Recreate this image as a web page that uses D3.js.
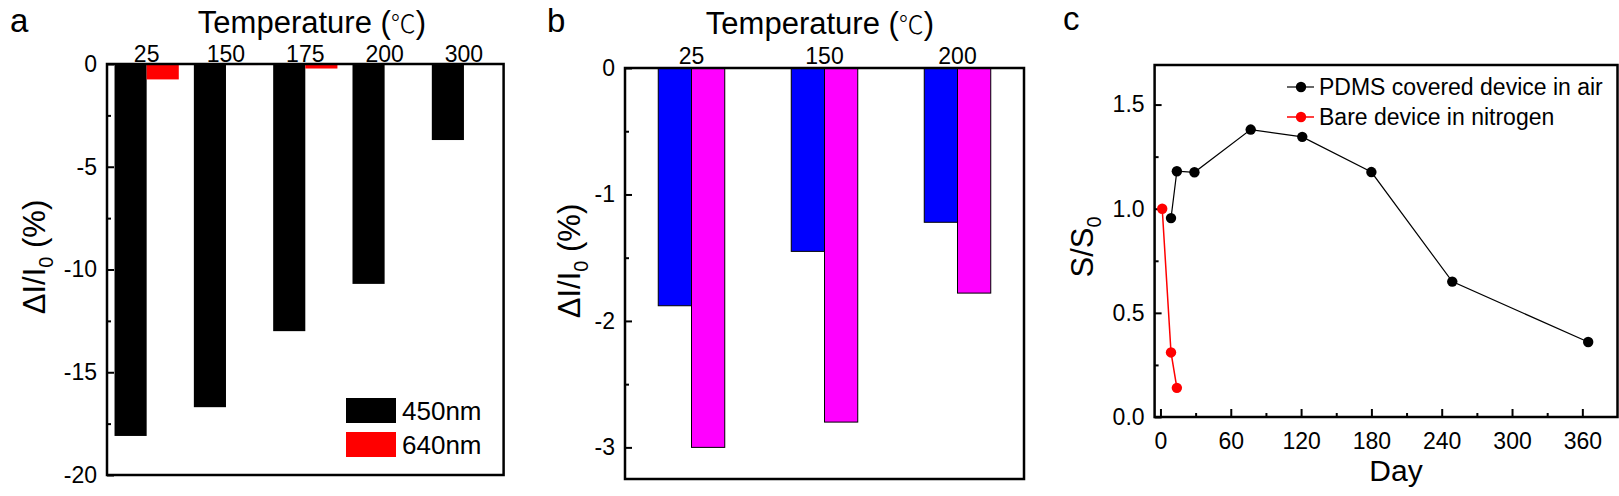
<!DOCTYPE html>
<html>
<head>
<meta charset="utf-8">
<script src="https://cdn.jsdelivr.net/npm/d3@7"></script>
<style>
  body { margin: 0; background: #fff; }
  svg { display: block; }
  text { font-family: "Liberation Sans", Arial, sans-serif; fill: #000; }
  .deg { font-family: "Noto Sans CJK SC", "DejaVu Sans", sans-serif; font-weight: 300; }
</style>
</head>
<body>
<div id="chart"></div>
<script>
// panel a data
var tempsA = ["25", "150", "175", "200", "300"];
var nm450 = [-18.1, -16.7, -13.0, -10.7, -3.7];
var nm640 = [-0.75, -0.05, -0.22, 0, 0];
var ticksA = [0, -5, -10, -15, -20];
var minorA = [-2.5, -7.5, -12.5, -17.5];

// panel b data
var tempsB = ["25", "150", "200"];
var blueB = [-1.88, -1.45, -1.22];
var pinkB = [-3.0, -2.8, -1.78];
var ticksB = [0, -1, -2, -3];
var minorB = [-0.5, -1.5, -2.5];

// panel c data
var pdmsDay = [9, 14, 29, 77, 121, 180, 249, 365];
var pdmsS = [0.955, 1.18, 1.175, 1.38, 1.345, 1.176, 0.65, 0.36];
var bareDay = [1.5, 9, 14];
var bareS = [1.0, 0.31, 0.14];
var ticksCx = [0, 60, 120, 180, 240, 300, 360];
var minorCx = [30, 90, 150, 210, 270, 330];
var ticksCy = [0, 0.5, 1.0, 1.5];
var minorCy = [0.25, 0.75, 1.25];

var width = 1619, height = 496;
var svg = d3.select("#chart").append("svg")
  .attr("width", width)
  .attr("height", height);

var tickFont = 23;
// plain hyphen minus like the original figure
var intFmt = function(d) { return String(d); };

// draws y axis with inward ticks + minor ticks
function yAxis(g, y, left, ticks, minor, fmt) {
  g.append("g")
    .attr("transform", "translate(" + left + ",0)")
    .call(d3.axisLeft(y).tickValues(ticks).tickSize(-7).tickPadding(10).tickFormat(fmt))
    .call(function(s) { s.select(".domain").remove(); })
    .call(function(s) {
      s.selectAll("line").attr("stroke", "#000").attr("stroke-width", 2);
      s.selectAll("text").style("font-size", tickFont + "px").attr("font-family", null).attr("fill", "#000");
    });
  g.append("g")
    .attr("transform", "translate(" + left + ",0)")
    .call(d3.axisLeft(y).tickValues(minor).tickSize(-4).tickFormat(""))
    .call(function(s) { s.select(".domain").remove(); })
    .call(function(s) { s.selectAll("line").attr("stroke", "#000").attr("stroke-width", 2); });
}

function frame(g, x0, y0, x1, y1) {
  g.append("rect")
    .attr("x", x0).attr("y", y0)
    .attr("width", x1 - x0).attr("height", y1 - y0)
    .attr("fill", "none")
    .attr("stroke", "#000")
    .attr("stroke-width", 2.5);
}

function yLabel(g, x, y, main, sub, rest) {
  var t = g.append("text")
    .attr("transform", "translate(" + x + "," + y + ") rotate(-90)")
    .attr("text-anchor", "middle")
    .style("font-size", "31px");
  t.append("tspan").text(main);
  t.append("tspan").text(sub).style("font-size", "20px").attr("dy", 8);
  if (rest) t.append("tspan").text(rest).attr("dy", -8);
}

function tempTitle(g, x, y) {
  var t = g.append("text")
    .attr("x", x).attr("y", y)
    .attr("text-anchor", "middle")
    .style("font-size", "31px");
  t.append("tspan").text("Temperature (");
  t.append("tspan").attr("class", "deg").style("font-size", "25px").text("\u2103");
  t.append("tspan").text(")");
}

// ---------- panel a ----------
(function() {
  var L = 107, R = 503.6, T = 64, B = 475;
  var g = svg.append("g");
  var x0 = d3.scaleBand().domain(tempsA).range([L, R]).paddingInner(0.19).paddingOuter(0.095);
  var x1 = d3.scaleBand().domain(["450nm", "640nm"]).range([0, x0.bandwidth()]);
  var y = d3.scaleLinear().domain([-20, 0]).range([B, T]);
  var z = d3.scaleOrdinal().domain(["450nm", "640nm"]).range(["#000000", "#ff0000"]);

  var rows = tempsA.map(function(t, i) {
    return { t: t, vals: [{ k: "450nm", v: nm450[i] }, { k: "640nm", v: nm640[i] }] };
  });

  g.selectAll(".grp").data(rows).enter().append("g")
    .attr("transform", function(d) { return "translate(" + x0(d.t) + ",0)"; })
    .selectAll("rect").data(function(d) { return d.vals; }).enter().append("rect")
    .attr("x", function(d) { return x1(d.k); })
    .attr("y", y(0))
    .attr("width", x1.bandwidth())
    .attr("height", function(d) { return y(d.v) - y(0); })
    .attr("fill", function(d) { return z(d.k); });

  yAxis(g, y, L, ticksA, minorA, intFmt);
  frame(g, L, T, R, B);

  g.selectAll(".cat").data(tempsA).enter().append("text")
    .attr("x", function(d) { return x0(d) + x0.bandwidth() / 2; })
    .attr("y", T - 2)
    .attr("text-anchor", "middle")
    .style("font-size", tickFont + "px")
    .text(function(d) { return d; });

  tempTitle(g, 312, 33);
  yLabel(g, 45, 257, "\u0394I/I", "0", " (%)");

  g.append("text").attr("x", 10).attr("y", 32).style("font-size", "33px").text("a");

  // legend
  var leg = g.selectAll(".leg").data(["450nm", "640nm"]).enter().append("g")
    .attr("transform", function(d, i) { return "translate(346," + (398 + i * 34) + ")"; });
  leg.append("rect").attr("width", 50).attr("height", 25).attr("fill", function(d) { return z(d); });
  leg.append("text").attr("x", 56).attr("y", 22).style("font-size", "26px").text(function(d) { return d; });
})();

// ---------- panel b ----------
(function() {
  var L = 625, R = 1024, T = 68, B = 479;
  var g = svg.append("g");
  var x0 = d3.scaleBand().domain(tempsB).range([L, R]).paddingInner(0.5).paddingOuter(0.25);
  var x1 = d3.scaleBand().domain(["s1", "s2"]).range([0, x0.bandwidth()]);
  var y = d3.scaleLinear().domain([-3.25, 0]).range([B, T]);
  var z = d3.scaleOrdinal().domain(["s1", "s2"]).range(["#0000ff", "#ff00ff"]);

  var rows = tempsB.map(function(t, i) {
    return { t: t, vals: [{ k: "s1", v: blueB[i] }, { k: "s2", v: pinkB[i] }] };
  });

  g.selectAll(".grp").data(rows).enter().append("g")
    .attr("transform", function(d) { return "translate(" + x0(d.t) + ",0)"; })
    .selectAll("rect").data(function(d) { return d.vals; }).enter().append("rect")
    .attr("x", function(d) { return x1(d.k); })
    .attr("y", y(0))
    .attr("width", x1.bandwidth())
    .attr("height", function(d) { return y(d.v) - y(0); })
    .attr("fill", function(d) { return z(d.k); })
    .attr("stroke", "#000")
    .attr("stroke-width", 1);

  yAxis(g, y, L, ticksB, minorB, intFmt);
  frame(g, L, T, R, B);

  g.selectAll(".cat").data(tempsB).enter().append("text")
    .attr("x", function(d) { return x0(d) + x0.bandwidth() / 2; })
    .attr("y", T - 4)
    .attr("text-anchor", "middle")
    .style("font-size", tickFont + "px")
    .text(function(d) { return d; });

  tempTitle(g, 820, 34);
  yLabel(g, 580, 261, "\u0394I/I", "0", " (%)");

  g.append("text").attr("x", 547).attr("y", 32).style("font-size", "33px").text("b");
})();

// ---------- panel c ----------
(function() {
  var L = 1154.6, R = 1617.5, T = 65, B = 417;
  var g = svg.append("g");
  var x = d3.scaleLinear().domain([-5, 390]).range([L, R]);
  var y = d3.scaleLinear().domain([0, 1.69]).range([B, T]);

  yAxis(g, y, L, ticksCy, minorCy, d3.format(".1f"));

  g.append("g")
    .attr("transform", "translate(0," + B + ")")
    .call(d3.axisBottom(x).tickValues(ticksCx).tickSize(-8).tickPadding(16).tickFormat(intFmt))
    .call(function(s) { s.select(".domain").remove(); })
    .call(function(s) {
      s.selectAll("line").attr("stroke", "#000").attr("stroke-width", 2);
      s.selectAll("text").style("font-size", tickFont + "px").attr("font-family", null).attr("fill", "#000");
    });
  g.append("g")
    .attr("transform", "translate(0," + B + ")")
    .call(d3.axisBottom(x).tickValues(minorCx).tickSize(-4).tickFormat(""))
    .call(function(s) { s.select(".domain").remove(); })
    .call(function(s) { s.selectAll("line").attr("stroke", "#000").attr("stroke-width", 2); });

  var line = d3.line()
    .x(function(d) { return x(d[0]); })
    .y(function(d) { return y(d[1]); });

  var series = [
    { name: "PDMS covered device in air", color: "#000000", w: 1.2, pts: d3.zip(pdmsDay, pdmsS) },
    { name: "Bare device in nitrogen", color: "#ff0000", w: 1.5, pts: d3.zip(bareDay, bareS) }
  ];

  series.forEach(function(s) {
    g.append("path")
      .attr("d", line(s.pts))
      .attr("fill", "none")
      .attr("stroke", s.color)
      .attr("stroke-width", s.w);
    g.selectAll(null).data(s.pts).enter().append("circle")
      .attr("cx", function(d) { return x(d[0]); })
      .attr("cy", function(d) { return y(d[1]); })
      .attr("r", 5.2)
      .attr("fill", s.color);
  });

  frame(g, L, T, R, B);

  // legend
  var leg = g.selectAll(".leg").data(series).enter().append("g")
    .attr("transform", function(d, i) { return "translate(1287," + (87 + i * 30) + ")"; });
  leg.append("line").attr("x1", 0).attr("x2", 27)
    .attr("stroke", function(d) { return d.color; }).attr("stroke-width", function(d) { return d.w; });
  leg.append("circle").attr("cx", 14).attr("r", 5.2).attr("fill", function(d) { return d.color; });
  leg.append("text").attr("x", 32).attr("y", 8).style("font-size", "23px").text(function(d) { return d.name; });

  g.append("text")
    .attr("x", 1396).attr("y", 481)
    .attr("text-anchor", "middle")
    .style("font-size", "30px")
    .text("Day");

  yLabel(g, 1093, 247, "S/S", "0", null);

  g.append("text").attr("x", 1063).attr("y", 30).style("font-size", "33px").text("c");
})();
</script>
</body>
</html>
